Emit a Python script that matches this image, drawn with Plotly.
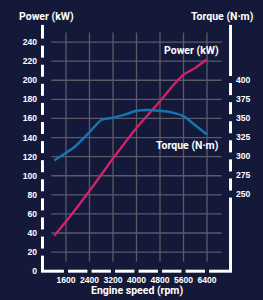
import plotly.graph_objects as go

# ---- data ----
power_rpm = [1200, 1600, 2400, 3200, 4000, 4800, 5200, 5600, 6000, 6400]
power_kw = [37, 52, 84, 118, 150, 178, 193, 206, 213, 222]

torque_rpm = [1200, 1600, 1900, 2400, 2800, 3200, 3600, 4000, 4400, 4800, 5200, 5600, 6000, 6400]
torque_nm = [294, 304, 312, 331, 347, 350, 354, 359, 360, 359, 357, 352, 340, 328]

x_ticks = [1600, 2400, 3200, 4000, 4800, 5600, 6400]
power_ticks = [0, 20, 40, 60, 80, 100, 120, 140, 160, 180, 200, 220, 240]
torque_ticks = [250, 275, 300, 325, 350, 375, 400]

# ---- styling ----
BG = "#151939"
GRID = "#5a5a68"
POWER_C = "#d3226a"
TORQUE_C = "#1675b0"
WHITE = "#ffffff"
TICKFONT = dict(family="Liberation Sans, Arial, sans-serif", size=8.6, color=WHITE, weight="bold")
TITLEFONT = dict(family="Roboto, Liberation Sans, sans-serif", size=10.5, color=WHITE, weight="bold")

X_RANGE = [750, 7250]
Y_RANGE = [-1.9, 260]
T_OFF, T_K = 149, 1.25
Y2_RANGE = [T_OFF + T_K * Y_RANGE[0], T_OFF + T_K * Y_RANGE[1]]
X_LEFT, X_RIGHT = 800, 7200
Y_TOP = 258

fig = go.Figure()

fig.add_trace(go.Scatter(x=power_rpm, y=power_kw, mode="lines",
                         line=dict(color=POWER_C, width=2.3, shape="spline", smoothing=0.6),
                         hoverinfo="skip", showlegend=False))
fig.add_trace(go.Scatter(x=torque_rpm, y=torque_nm, mode="lines", yaxis="y2",
                         line=dict(color=TORQUE_C, width=2.5, shape="spline", smoothing=0.6),
                         hoverinfo="skip", showlegend=False))

shapes = []
# horizontal gridlines
for p in power_ticks[1:]:
    shapes.append(dict(type="line", xref="x", yref="y", x0=1100, x1=6900, y0=p, y1=p,
                       line=dict(color=GRID, width=1.3), layer="below"))
# vertical gridlines
for r in x_ticks:
    shapes.append(dict(type="line", xref="x", yref="y", x0=r, x1=r, y0=10, y1=250,
                       line=dict(color=GRID, width=1.3), layer="below"))

# broken left axis
gap_p = 3.7
ys = [0]
for p in power_ticks[1:]:
    ys += [p - gap_p, p + gap_p]
ys.append(Y_TOP)
for i in range(0, len(ys), 2):
    shapes.append(dict(type="line", xref="x", yref="y", x0=X_LEFT, x1=X_LEFT, y0=ys[i], y1=ys[i + 1],
                       line=dict(color=WHITE, width=3)))
# broken bottom axis
gap_r = 70
xs = [X_LEFT - 50]
for r in x_ticks:
    xs += [r - gap_r, r + gap_r]
xs.append(X_RIGHT + 50)
for i in range(0, len(xs), 2):
    shapes.append(dict(type="line", xref="x", yref="y", x0=xs[i], x1=xs[i + 1], y0=0, y1=0,
                       line=dict(color=WHITE, width=3)))
# broken right axis
gap_t = 4.6
ts = [T_OFF]
for t in torque_ticks:
    ts += [t - gap_t, t + gap_t]
ts.append(T_OFF + T_K * Y_TOP)
for i in range(0, len(ts), 2):
    shapes.append(dict(type="line", xref="x", yref="y2", x0=X_RIGHT, x1=X_RIGHT, y0=ts[i], y1=ts[i + 1],
                       line=dict(color=WHITE, width=3)))

annotations = [
    dict(text="Power (kW)", xref="paper", yref="paper", x=0.03, y=1.025, showarrow=False,
         xanchor="center", yanchor="middle", font=TITLEFONT),
    dict(text="Torque (N·m)", xref="paper", yref="paper", x=1.128, y=1.025, showarrow=False,
         xanchor="right", yanchor="middle", font=TITLEFONT),
    dict(text="Engine speed (rpm)", xref="paper", yref="paper", x=0.505, y=-0.07, showarrow=False,
         xanchor="center", yanchor="middle", font=TITLEFONT),
    dict(text="Power (kW)", xref="x", yref="y", x=5874, y=231, showarrow=False,
         xanchor="center", yanchor="middle", font=TITLEFONT),
    dict(text="Torque (N·m)", xref="x", yref="y2", x=5751, y=313.4, showarrow=False,
         xanchor="center", yanchor="middle", font=TITLEFONT),
]

fig.update_layout(
    width=263, height=300,
    margin=dict(l=41, r=26, t=23, b=27, pad=0),
    paper_bgcolor=BG, plot_bgcolor=BG,
    xaxis=dict(range=X_RANGE, tickvals=x_ticks, ticktext=[str(v) for v in x_ticks],
               showgrid=False, zeroline=False, showline=False, ticks="",
               tickfont=TICKFONT, fixedrange=True),
    yaxis=dict(range=Y_RANGE, tickvals=power_ticks, ticktext=[str(v) for v in power_ticks],
               showgrid=False, zeroline=False, showline=False, ticks="",
               ticklabelstandoff=3, tickfont=TICKFONT, fixedrange=True),
    yaxis2=dict(range=Y2_RANGE, tickvals=torque_ticks, ticktext=[str(v) for v in torque_ticks],
                overlaying="y", side="right", showgrid=False, zeroline=False, showline=False,
                ticks="", ticklabelstandoff=3, tickfont=TICKFONT, fixedrange=True),
    shapes=shapes,
    annotations=annotations,
    showlegend=False,
)

fig.write_html("out.html", config={"displayModeBar": False},
               post_script="document.body.style.margin='0';document.body.style.background='" + BG + "';")
